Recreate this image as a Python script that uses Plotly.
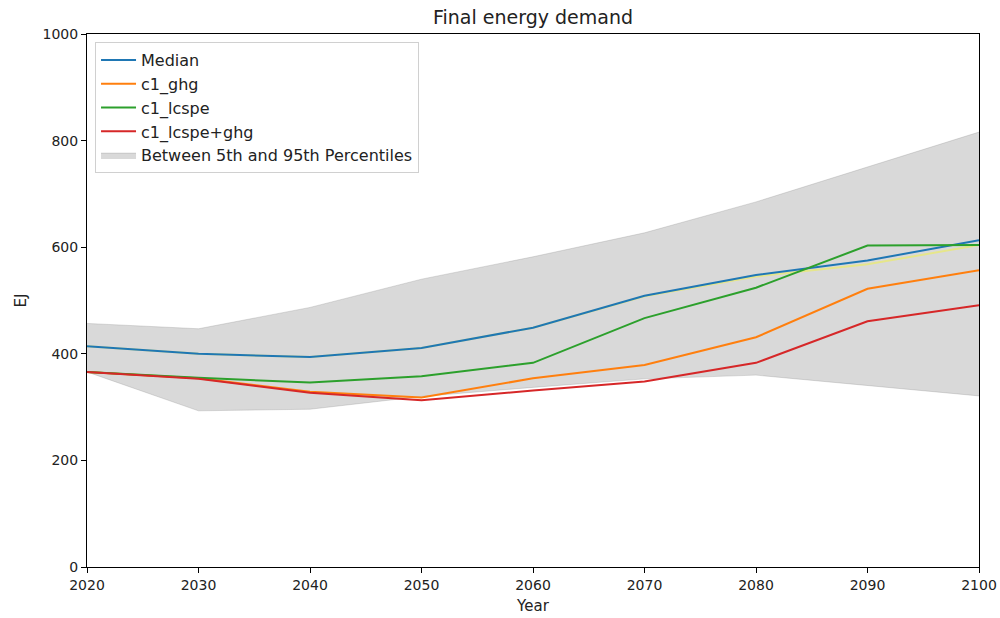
import plotly.graph_objects as go

years = [2020, 2030, 2040, 2050, 2060, 2070, 2080, 2090, 2100]
median = [414, 400, 394, 411, 449, 509, 548, 575, 613]
c1_ghg = [366, 354, 329, 318, 354, 379, 431, 522, 557]
c1_lcspe = [366, 355, 346, 358, 383, 467, 524, 603, 604]
c1_lcspe_ghg = [366, 353, 327, 313, 331, 348, 383, 461, 491]
extra_line = [414, 400, 394, 411, 449, 508, 545, 568, 604]
p5 = [366, 293, 296, 320, 337, 353, 360, 341, 321]
p95 = [457, 447, 487, 540, 582, 627, 685, 751, 816]

font = "DejaVu Sans, Liberation Sans, sans-serif"

fig = go.Figure()
fig.add_trace(go.Scatter(x=years, y=p5, mode="lines", line=dict(color="rgba(128,128,128,0.25)", width=1),
                         showlegend=False, hoverinfo="skip"))
fig.add_trace(go.Scatter(x=years, y=p95, mode="lines", fill="tonexty",
                         fillcolor="rgba(128,128,128,0.3)", line=dict(color="rgba(128,128,128,0.25)", width=1),
                         name="Between 5th and 95th Percentiles", legendrank=5))
fig.add_trace(go.Scatter(x=years, y=extra_line, mode="lines", line=dict(color="#e6e68a", width=2),
                         showlegend=False))
fig.add_trace(go.Scatter(x=years, y=median, mode="lines", line=dict(color="#1f77b4", width=2),
                         name="Median", legendrank=1))
fig.add_trace(go.Scatter(x=years, y=c1_ghg, mode="lines", line=dict(color="#ff7f0e", width=2),
                         name="c1_ghg", legendrank=2))
fig.add_trace(go.Scatter(x=years, y=c1_lcspe, mode="lines", line=dict(color="#2ca02c", width=2),
                         name="c1_lcspe", legendrank=3))
fig.add_trace(go.Scatter(x=years, y=c1_lcspe_ghg, mode="lines", line=dict(color="#d62728", width=2),
                         name="c1_lcspe+ghg", legendrank=4))

axis_common = dict(showline=True, linecolor="black", linewidth=1, mirror=True, automargin=False,
                   ticks="outside", ticklen=5, tickcolor="black", showgrid=False, zeroline=False,
                   tickfont=dict(family=font, size=14, color="#222"))

fig.update_layout(
    width=1000, height=618,
    margin=dict(l=87, r=21, t=34, b=51),
    paper_bgcolor="white", plot_bgcolor="white",
    font=dict(family=font, size=14, color="#222"),
    title=dict(text="Final energy demand", x=0.533, xanchor="center", y=0.972, yanchor="middle",
               font=dict(family=font, size=19, color="#222")),
    legend=dict(x=0.009, y=0.985, xanchor="left", yanchor="top",
                bgcolor="rgba(255,255,255,0.85)", bordercolor="#d0d0d0", borderwidth=1,
                font=dict(family=font, size=16, color="#222"), itemwidth=35,
                traceorder="normal"),
    xaxis=dict(range=[2020, 2100], tickvals=years, title=dict(text="Year", standoff=8,
               font=dict(family=font, size=15)), **axis_common),
    yaxis=dict(range=[0, 1000], tickvals=[0, 200, 400, 600, 800, 1000],
               title=dict(text="EJ", standoff=12, font=dict(family=font, size=15)), **axis_common),
)

fig.write_html("out.html", config={"displayModeBar": False},
               post_script="document.body.style.margin='0px';document.body.style.overflow='hidden';")
